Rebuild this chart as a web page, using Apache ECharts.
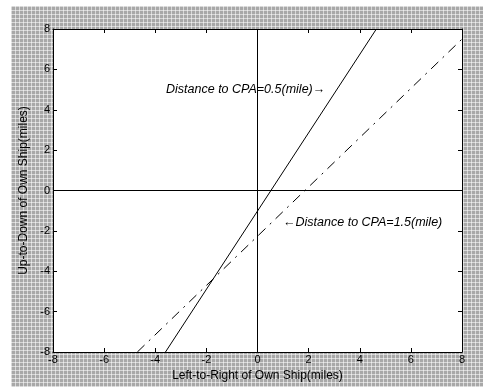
<!DOCTYPE html>
<html>
<head>
<meta charset="utf-8">
<script src="https://cdn.jsdelivr.net/npm/echarts@6/dist/echarts.min.js"></script>
<style>
html,body{margin:0;padding:0;background:#fff;width:483px;height:387px;overflow:hidden;}
#bg{position:absolute;left:11px;top:6px;width:472px;height:381px;
background-color:#a8a8a8;
background-image:
 repeating-linear-gradient(0deg, rgba(255,255,255,0.55) 0px, rgba(255,255,255,0.55) 1px, transparent 1px, transparent 4px),
 repeating-linear-gradient(90deg, rgba(255,255,255,0.55) 0px, rgba(255,255,255,0.55) 1px, transparent 1px, transparent 4px);}
#chart{position:absolute;left:0;top:0;width:483px;height:387px;}
</style>
</head>
<body>
<div id="bg"></div>
<div id="chart"></div>
<script>
// Data
const xTicks = [-8, -6, -4, -2, 0, 2, 4, 6, 8];
const yTicks = [-8, -6, -4, -2, 0, 2, 4, 6, 8];
const cpa05X = [-3.6, 4.65];
const cpa05Y = [-8, 8];
const cpa15X = [-4.7, 8];
const cpa15Y = [-8, 7.5];
const label05 = 'Distance to CPA=0.5(mile)\u2192';
const label15 = '\u2190Distance to CPA=1.5(mile)';
const label05Pos = [2.65, 5.0];
const label15Pos = [1.0, -1.6];

const FONT = 'Liberation Sans, Arial, sans-serif';
const chart = echarts.init(document.getElementById('chart'), null, {renderer: 'canvas'});

function axisCommon(showLabel) {
  return {
    type: 'value', min: -8, max: 8, interval: 2,
    axisLine: {show: true, onZero: false, lineStyle: {color: '#000', width: 1}},
    axisTick: {show: true, inside: true, length: 4, lineStyle: {color: '#000'}},
    splitLine: {show: false},
    axisLabel: {show: showLabel, color: '#000', fontFamily: FONT, fontSize: 11}
  };
}

const option = {
  backgroundColor: 'transparent',
  animation: false,
  grid: {left: 53, top: 29, width: 409, height: 323, backgroundColor: '#fff', show: true, borderWidth: 0},
  xAxis: [
    Object.assign(axisCommon(true), {
      position: 'bottom',
      name: 'Left-to-Right of Own Ship(miles)', nameLocation: 'middle', nameGap: 16,
      nameTextStyle: {color: '#000', fontFamily: FONT, fontSize: 12},
      axisLabel: {show: true, color: '#000', fontFamily: FONT, fontSize: 11, margin: 2,
        formatter: v => xTicks.includes(v) ? String(v) : ''}
    }),
    Object.assign(axisCommon(false), {position: 'top'})
  ],
  yAxis: [
    Object.assign(axisCommon(true), {
      position: 'left',
      name: 'Up-to-Down of Own Ship(miles)', nameLocation: 'middle', nameGap: 20,
      nameTextStyle: {color: '#000', fontFamily: FONT, fontSize: 12},
      axisLabel: {show: true, color: '#000', fontFamily: FONT, fontSize: 11, margin: 3,
        formatter: v => yTicks.includes(v) ? String(v) : ''}
    }),
    Object.assign(axisCommon(false), {position: 'right'})
  ],
  series: [
    {
      type: 'line', xAxisIndex: 0, yAxisIndex: 0, symbol: 'none',
      data: cpa05X.map((x, i) => [x, cpa05Y[i]]),
      lineStyle: {color: '#000', width: 1},
      markLine: {
        silent: true, symbol: 'none', label: {show: false},
        lineStyle: {color: '#000', width: 1, type: 'solid'},
        data: [{xAxis: 0}, {yAxis: 0}]
      },
      markPoint: {
        symbol: 'circle', symbolSize: 0,
        data: [
          {coord: label05Pos, label: {show: true, formatter: label05, position: 'left', distance: 0,
            color: '#000', fontFamily: FONT, fontSize: 12.5, fontStyle: 'italic'}},
          {coord: label15Pos, label: {show: true, formatter: label15, position: 'right', distance: 0,
            color: '#000', fontFamily: FONT, fontSize: 12.5, fontStyle: 'italic'}}
        ]
      }
    },
    {
      type: 'line', xAxisIndex: 0, yAxisIndex: 0, symbol: 'none',
      data: cpa15X.map((x, i) => [x, cpa15Y[i]]),
      lineStyle: {color: '#000', width: 1, type: [10, 6, 2, 6]}
    }
  ]
};
chart.setOption(option);
</script>
</body>
</html>
